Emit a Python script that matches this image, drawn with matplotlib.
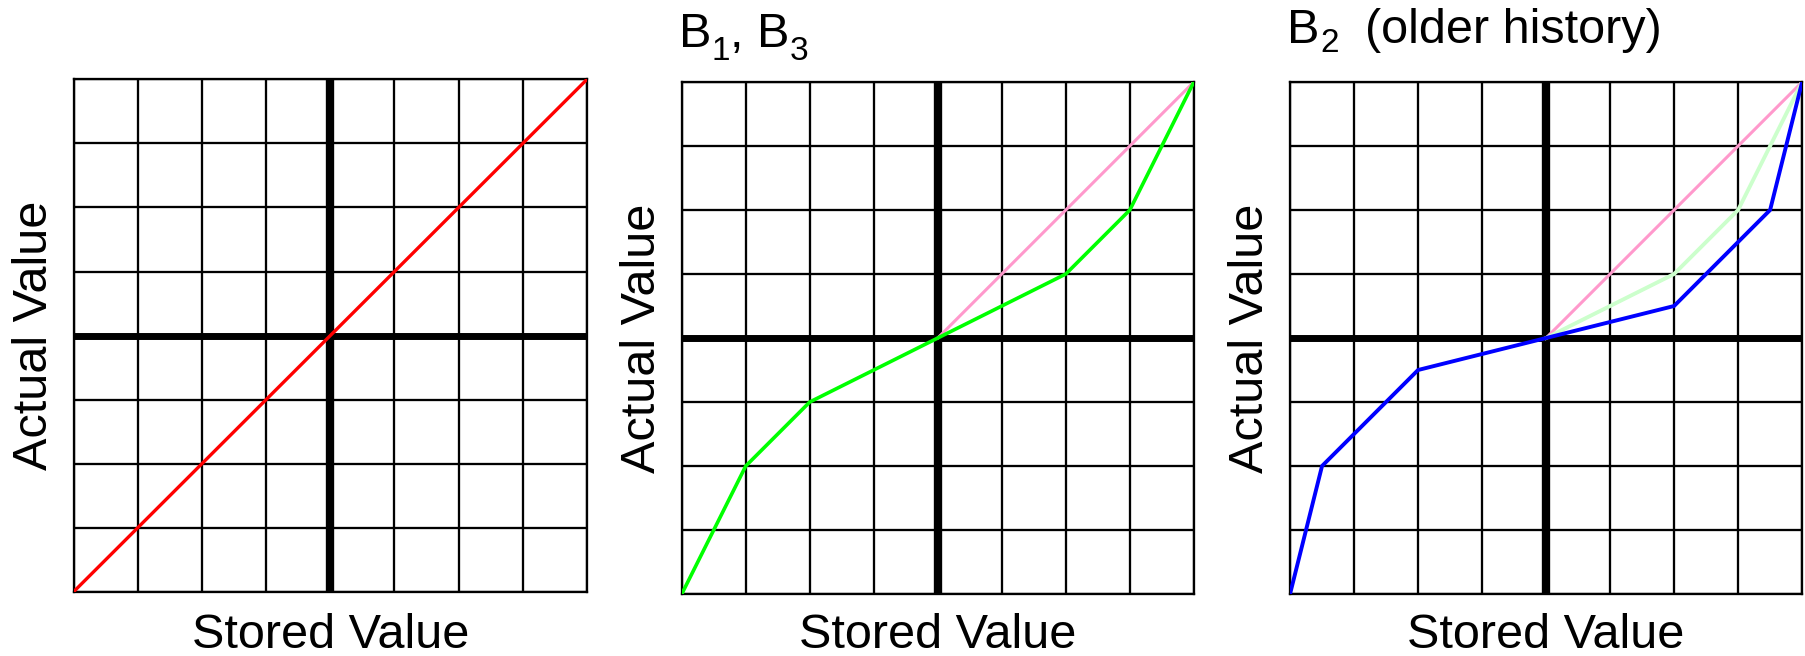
import matplotlib
matplotlib.use('Agg')
import matplotlib.pyplot as plt
from matplotlib.transforms import blended_transform_factory

plt.rcParams['font.family'] = ['Liberation Sans', 'DejaVu Sans']

# ---- data (grid units, stored value vs actual value) ----
grid_ticks = [-4, -3, -2, -1, 0, 1, 2, 3, 4]

ideal_x = [-4, 4]
ideal_y = [-4, 4]

ref_x = [0, 4]          # faded identity (upper half)
ref_y = [0, 4]

b13_x = [-4, -3, -2, 0, 2, 3, 4]
b13_y = [-4, -2, -1, 0, 1, 2, 4]

b13_pos_x = [0, 2, 3, 4]   # faded B1,B3 curve on the older-history panel
b13_pos_y = [0, 1, 2, 4]

b2_x = [-4, -3.5, -2, 0, 2, 3.5, 4]
b2_y = [-4, -2, -0.5, 0, 0.5, 2, 4]

# title pieces: (text, is_subscript, vertical offset in px from previous bbox bottom)
title_b13 = [('B', False, 0), ('1', True, -3), (', B', False, 20), ('3', True, -3)]
title_b2 = [('B', False, 0), ('2', True, 1), ('  (older history)', False, 16)]

MAIN_FS = 35
SUB_FS = 24

# ---- figure ----
fig = plt.figure(figsize=(18.05, 6.56), dpi=100)
rects = [
    [0.0408, 0.098, 0.2844, 0.781],
    [0.3777, 0.0945, 0.2837, 0.7805],
    [0.7147, 0.0945, 0.2837, 0.7805],
]
axes = [fig.add_axes(r) for r in rects]


def base_panel(ax):
    ax.set_xlim(-4, 4)
    ax.set_ylim(-4, 4)
    ax.set_xticks(grid_ticks)
    ax.set_yticks(grid_ticks)
    ax.tick_params(length=0, labelbottom=False, labelleft=False)
    ax.grid(True, color='black', linewidth=1.65)
    ax.set_axisbelow(True)
    for s in ax.spines.values():
        s.set_linewidth(1.65)
        s.set_color('black')
    # thick centre axes
    ax.axhline(0, color='black', linewidth=5, zorder=1.5)
    ax.axvline(0, color='black', linewidth=6, zorder=1.5)
    ax.text(-0.077, 0.5, 'Actual Value', rotation=90, ha='center',
            va='center', fontsize=MAIN_FS, transform=ax.transAxes)
    trans = blended_transform_factory(ax.transAxes, fig.transFigure)
    ax.text(0.5, 0.0125, 'Stored Value', ha='center', va='baseline',
            fontsize=MAIN_FS, transform=trans)


def draw_title(ax, parts, ty):
    prev = None
    for txt, is_sub, dy in parts:
        fs = SUB_FS if is_sub else MAIN_FS
        if prev is None:
            prev = ax.text(-0.005, ty, txt, fontsize=fs, ha='left',
                           va='baseline', transform=ax.transAxes)
        else:
            prev = ax.annotate(txt, xy=(1, 0), xycoords=prev,
                               xytext=(0, dy), textcoords='offset pixels',
                               fontsize=fs, ha='left', va='baseline')


for ax in axes:
    base_panel(ax)

draw_title(axes[1], title_b13, 1.068)
draw_title(axes[2], title_b2, 1.077)

# panel 1: ideal mapping
axes[0].plot(ideal_x, ideal_y, color='#ff0000', linewidth=2.4, zorder=3)

# panel 2: B1, B3
axes[1].plot(ref_x, ref_y, color='#ff99cc', linewidth=2.2, zorder=3)
axes[1].plot(b13_x, b13_y, color='#00ff00', linewidth=2.6, zorder=4)

# panel 3: B2 (older history)
axes[2].plot(ref_x, ref_y, color='#ff99cc', linewidth=2.2, zorder=3)
axes[2].plot(b13_pos_x, b13_pos_y, color='#ccffcc', linewidth=2.8, zorder=3.5)
axes[2].plot(b2_x, b2_y, color='#0000ff', linewidth=2.8, zorder=4)

fig.savefig('out.png', dpi=100)
